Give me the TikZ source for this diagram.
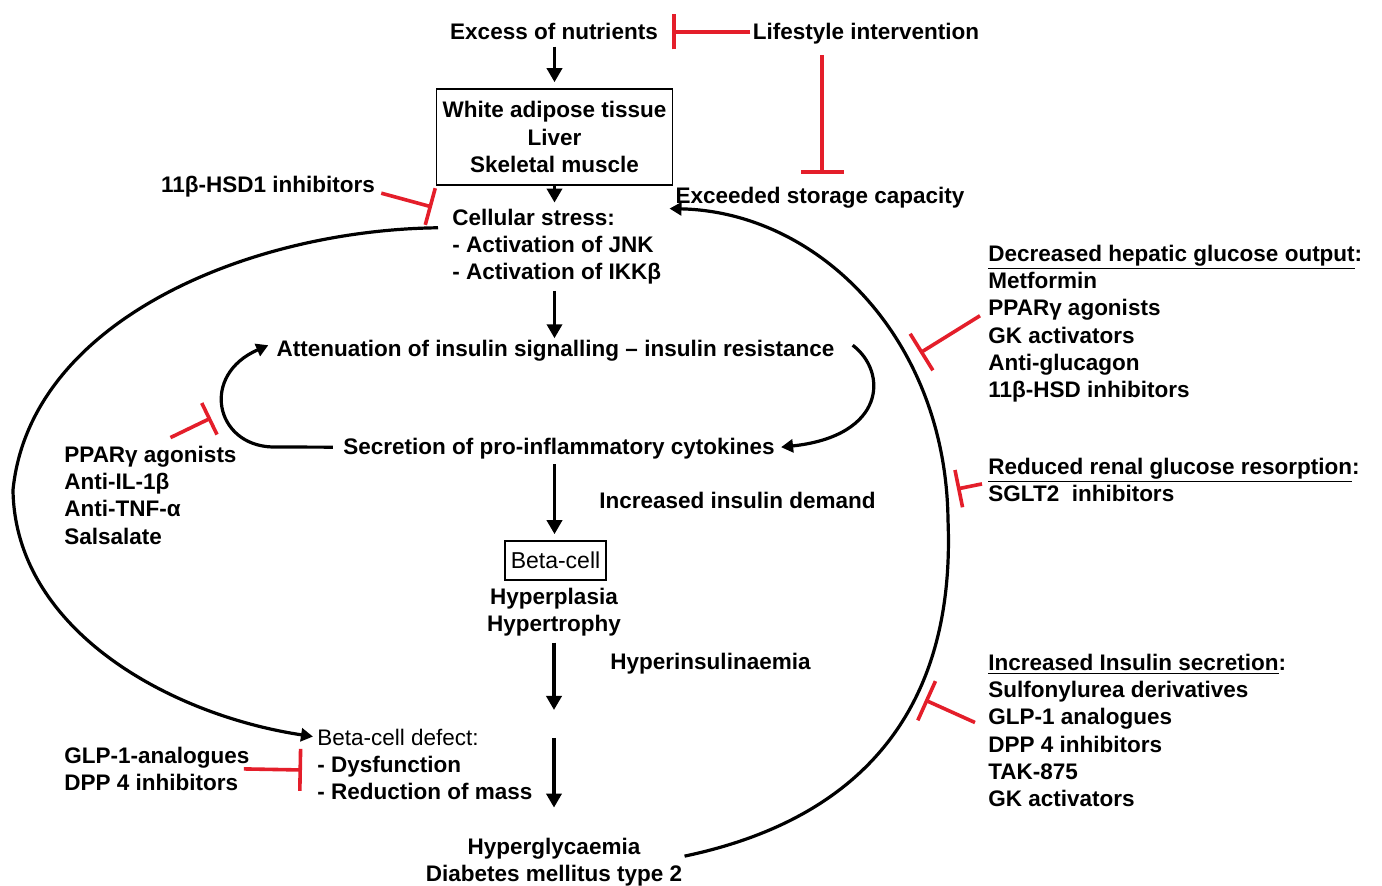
\documentclass[tikz,border=0pt]{standalone}
\usepackage{fontspec}
\setmainfont{Liberation Sans}
\usetikzlibrary{arrows.meta}
\definecolor{inhred}{RGB}{228,30,42}
\tikzset{
  lbl/.style={font=\bfseries\fontsize{11.25}{13.65}\selectfont, inner sep=0pt},
  boxed/.style={draw, line width=0.8pt, inner sep=3pt},
  arr/.style={-{Triangle[length=7pt,width=7.5pt]}, line width=1.8pt},
  carr/.style={-{Triangle[length=6pt,width=6.5pt]}, line width=1.6pt},
  inh/.style={draw=inhred, line width=1.8pt, -{Bar[width=#1]}},
  inh/.default=18pt
}
\begin{document}
\begin{tikzpicture}[x=0.5pt,y=-0.5pt]
\useasboundingbox (0,0) rectangle (1382,886);
\fill[white] (0,0) rectangle (1382,886);

% main column
\node[lbl, anchor=base] (excess) at (554,40) {Excess of nutrients};
\node[lbl, anchor=base] (life) at (866,40) {Lifestyle intervention};
\node[lbl, boxed, align=center, minimum width=117.5pt, minimum height=48pt] (tissue) at (554.5,137)
  {White adipose tissue\\Liver\\Skeletal muscle};
\node[lbl, anchor=base] (exceeded) at (820,204) {Exceeded storage capacity};
\node[lbl, anchor=base] (hsd) at (268,193) {11β-HSD1 inhibitors};
\node[lbl, anchor=north west, align=left] (stress) at (452,208.6)
  {Cellular stress:\\- Activation of JNK\\- Activation of IKKβ};
\node[lbl, anchor=base] (atten) at (555.5,357) {Attenuation of insulin signalling – insulin resistance};
\node[lbl, anchor=base] (secr) at (559,455) {Secretion of pro-inflammatory cytokines};
\node[lbl, anchor=north west, align=left] (pparL) at (64,445.6)
  {PPARγ agonists\\Anti-IL-1β\\Anti-TNF-α\\Salsalate};
\node[lbl, anchor=base] (demand) at (737.5,509) {Increased insulin demand};
\node[lbl, boxed, font=\mdseries\fontsize{11.5}{13.65}\selectfont, minimum width=50.5pt, minimum height=19.5pt, inner sep=2pt] (beta) at (555.5,560.5) {Beta-cell};
\node[lbl, anchor=north, align=center] (hyper) at (554,587.6) {Hyperplasia\\Hypertrophy};
\node[lbl, anchor=base] (hins) at (710.5,670) {Hyperinsulinaemia};
\node[lbl, anchor=north west, align=left] (defect) at (317,728.6)
  {{\mdseries Beta-cell defect:}\\- Dysfunction\\- Reduction of mass};
\node[lbl, anchor=north west, align=left] (glp) at (64,746.6) {GLP-1-analogues\\DPP 4 inhibitors};
\node[lbl, anchor=north, align=center] (hgly) at (554,837.6) {Hyperglycaemia\\Diabetes mellitus type 2};

% right side
\node[lbl, anchor=north west, align=left] (hep) at (988,244.6)
  {\underline{Decreased hepatic glucose output}:\\Metformin\\PPARγ agonists\\GK activators\\Anti-glucagon\\11β-HSD inhibitors};
\node[lbl, anchor=north west, align=left] (renal) at (988,457.6)
  {\underline{Reduced renal glucose resorption}:\\SGLT2\ \ inhibitors};
\node[lbl, anchor=north west, align=left] (ins) at (988,653.6)
  {\underline{Increased Insulin secretion}:\\Sulfonylurea derivatives\\GLP-1 analogues\\DPP 4 inhibitors\\TAK-875\\GK activators};

% coordinates
\coordinate (c1) at (554,710);
\coordinate (c2) at (554,738);
\coordinate (lsbar) at (822,174);
\coordinate (hsdbar) at (432,207);
\coordinate (pparbar) at (211,418);
\coordinate (glpbar) at (302,770);
\coordinate (hepbar) at (920,353);
\coordinate (renalbar) at (957,489);
\coordinate (insbar) at (925,700);
\coordinate (rpeak) at (948,520);
\coordinate (lpeak) at (13,490);

% black arrows
\draw[arr, shorten <=3pt, shorten >=3pt] (excess.south -| tissue.north) -- (tissue.north);
\draw[arr, shorten >=3pt] (tissue.south) -- (tissue.south |- stress.north);
\draw[arr, shorten <=3pt, shorten >=1pt] (tissue.south |- stress.south) -- (tissue.south |- atten.north);
\draw[arr, shorten <=2pt, shorten >=3pt] (tissue.south |- secr.south) -- (tissue.south |- beta.north);
\draw[arr, shorten <=3pt] (hyper.south) -- (c1);
\draw[arr, shorten >=15pt] (c2) -- (hgly.north);

% loops
\draw[carr] ([xshift=9pt,yshift=3pt]atten.east) .. controls (888,372) and (886,436) .. ([xshift=3pt,yshift=1pt]secr.east);
\draw[carr] ([xshift=-5pt,yshift=1pt]secr.west) -- (272,447) .. controls (215,445) and (200,375) .. ([xshift=-4pt,yshift=3pt]atten.west);

% big curves
\draw[carr] ([xshift=-7pt,yshift=9.5pt]stress.west) .. controls (250,230) and (30,320) .. (lpeak)
  .. controls (15,630) and (170,715) .. ([xshift=-2pt,yshift=-4pt]defect.north west);
\draw[carr] ([xshift=1pt,yshift=3pt]hgly.east) .. controls (880,815) and (955,690) .. (rpeak)
  .. controls (946,340) and (820,212) .. ([xshift=4pt]stress.north east);

% inhibitions
\draw[inh=17.5pt, shorten <=1pt] (life.west |- excess.east) -- ([xshift=7pt]excess.east);
\draw[inh=21.5pt, shorten <=5pt] (life.south -| lsbar) -- (lsbar);
\draw[inh=19pt] ([xshift=3pt,yshift=-3pt]hsd.east) -- (hsdbar);
\draw[inh=17.5pt] ([xshift=10pt,yshift=4pt]pparL.north) -- (pparbar);
\draw[inh=21pt] ([xshift=-3pt]glp.east) -- (glpbar);
\draw[inh=21.5pt] ([xshift=-4pt,yshift=4pt]hep.west) -- (hepbar);
\draw[inh=19pt] ([xshift=-3pt,yshift=-2pt]renal.west) -- (renalbar);
\draw[inh=21.5pt] ([xshift=-6.5pt,yshift=4pt]ins.west) -- (insbar);
\end{tikzpicture}
\end{document}
